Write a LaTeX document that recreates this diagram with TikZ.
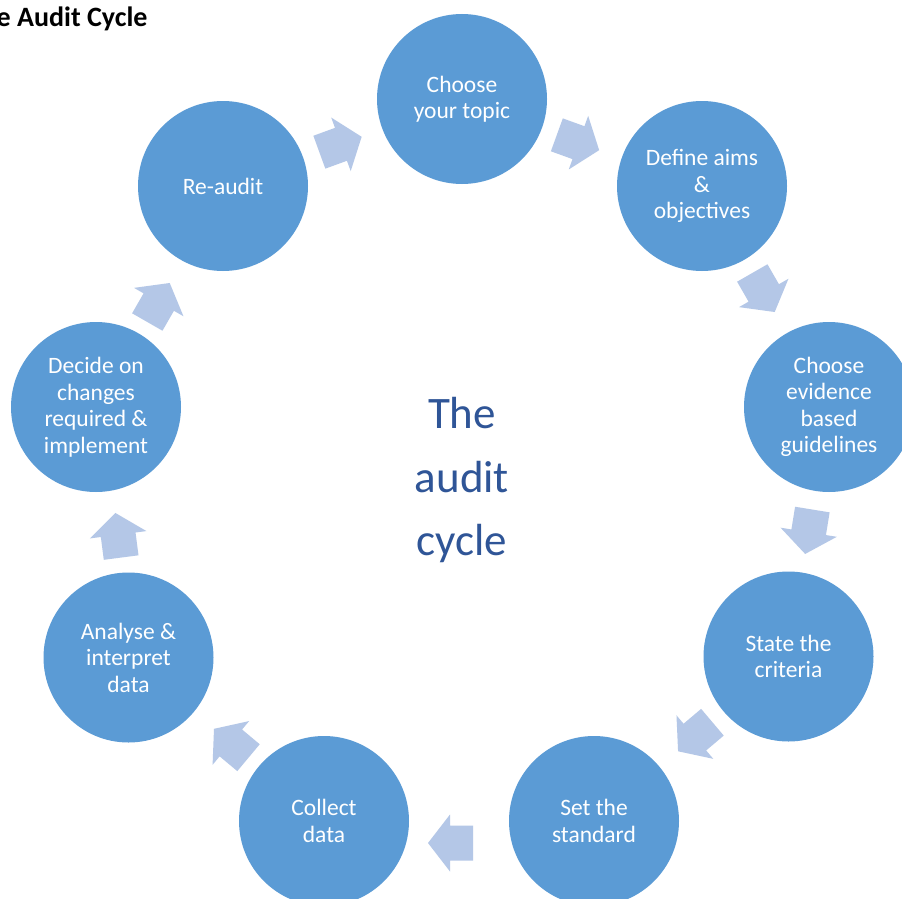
\documentclass[tikz,border=0pt]{standalone}
\usepackage{fontspec}
\setmainfont{Carlito}
\usetikzlibrary{calc}
\definecolor{circblue}{RGB}{91,155,213}
\definecolor{arrowblue}{RGB}{180,199,231}
\definecolor{centerblue}{RGB}{47,85,151}
\tikzset{
  stepcircle/.style={circle, fill=circblue, draw=none, minimum size=170pt, inner sep=0pt,
    align=center, text=white, font=\fontsize{23.5}{26.5}\selectfont},
  blockarrow/.pic={\fill[arrowblue] (-22.5,-17.5) -- (0.5,-17.5) -- (0.5,-28.5) -- (22.5,0)
    -- (0.5,28.5) -- (0.5,17.5) -- (-22.5,17.5) -- cycle;}
}
\newcommand\cyclearrow[3][0,0]{%
  \path let \p1=($(#3)-(#2)$), \n1={atan2(\y1,\x1)} in
    ($(#2)!0.5!(#3)+(#1)$) pic[rotate=\n1] {blockarrow};}
\begin{document}
\begin{tikzpicture}[x=1pt,y=-1pt]
\useasboundingbox (0,0) rectangle (902,899);
\fill[white] (0,0) rectangle (902,899);
\clip (0,0) rectangle (902,899);
\node[anchor=base east, font=\fontsize{28}{34}\selectfont\bfseries] (title) at (151,27) {The Audit Cycle};
\node[stepcircle] (n1) at (462,99) {Choose\\your topic};
\node[stepcircle] (n2) at (702,186) {Define aims\\\&\\objectives};
\node[stepcircle] (n3) at (829,407) {Choose\\evidence\\based\\guidelines};
\node[stepcircle] (n4) at (788.5,656.5) {State the\\criteria};
\node[stepcircle] (n5) at (594,821) {Set the\\standard};
\node[stepcircle] (n6) at (324,821) {Collect\\data};
\node[stepcircle] (n7) at (128.5,657.5) {Analyse \&\\interpret\\data};
\node[stepcircle] (n8) at (96,407) {Decide on\\changes\\required \&\\implement};
\node[stepcircle] (n9) at (223,186) {Re-audit};
\node[align=center, text=centerblue, font=\fontsize{45}{63.5}\selectfont] (center) at (462,480) {The\\audit\\cycle};
\cyclearrow[-4,0]{n1}{n2}
\cyclearrow[-2,-4]{n2}{n3}
\cyclearrow{n3}{n4}
\cyclearrow[4,-2]{n4}{n5}
\cyclearrow[-8.5,22]{n5}{n6}
\cyclearrow[5,4]{n6}{n7}
\cyclearrow[6,3]{n7}{n8}
\cyclearrow[-1,6]{n8}{n9}
\cyclearrow[-2,2]{n9}{n1}
\end{tikzpicture}
\end{document}
